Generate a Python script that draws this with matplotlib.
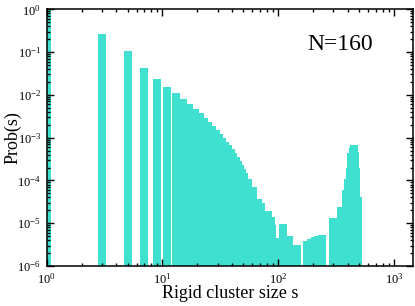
import numpy as np
import matplotlib
matplotlib.use("Agg")
import matplotlib.pyplot as plt
from matplotlib.ticker import LogLocator, NullFormatter

# ---------------------------------------------------------------------
# Datos (tamano de cluster rigido s, Prob(s))
# ---------------------------------------------------------------------
s_vals = [1, 3, 5, 7, 9, 11, 13, 15, 17, 19, 21, 23, 25, 27, 29, 31, 33,
          35, 37, 39, 41, 43, 45, 47, 49, 51, 55, 61, 67, 71, 81, 87, 89,
          95, 110, 124, 135, 147, 177, 194, 208, 222, 241, 301, 351, 387,
          404, 415, 427, 443, 451, 462, 474, 486, 493]
prob = [1.0, 0.265, 0.104, 0.0432, 0.024, 0.0156, 0.0109, 0.00802,
        0.00612, 0.00476, 0.00372, 0.00293, 0.00233, 0.00187, 0.00151,
        0.00120, 9.84e-4, 8.07e-4, 6.64e-4, 5.53e-4, 4.47e-4, 3.60e-4,
        2.90e-4, 2.34e-4, 1.89e-4, 1.52e-4, 1.07e-4, 6.93e-5, 3.63e-5,
        2.93e-5, 1.97e-5, 1.38e-5, 9.3e-6, 4.4e-6, 9.6e-6, 5.0e-6,
        3.06e-6, 3.06e-6, 3.92e-6, 4.23e-6, 4.71e-6, 5.05e-6, 5.42e-6,
        1.33e-5, 2.37e-5, 6.10e-5, 1.10e-4, 1.93e-4, 4.33e-4, 6.17e-4,
        6.64e-4, 4.71e-4, 1.93e-4, 4.18e-5, 1.0e-5]
label_text = "N=160"

# ---------------------------------------------------------------------
# Estilo
# ---------------------------------------------------------------------
plt.rcParams["font.family"] = ["Liberation Serif", "DejaVu Serif"]
plt.rcParams["mathtext.fontset"] = "custom"
plt.rcParams["mathtext.rm"] = "Liberation Serif"
plt.rcParams["mathtext.it"] = "Liberation Serif:italic"

fig = plt.figure(figsize=(4.15, 3.06), dpi=100)
ax = fig.add_axes([0.1125, 0.1307, 0.882, 0.8389])

# barras de ancho fijo en escala logaritmica
s = np.array(s_vals, dtype=float)
p = np.array(prob)
hw = 0.0346
left = s * 10 ** (-hw)
width = s * (10 ** hw - 10 ** (-hw))
bottom = 1e-7
ax.bar(left, p - bottom, width=width, bottom=bottom, align="edge",
       color="#40E0D0", edgecolor="none", linewidth=0)

ax.set_xscale("log")
ax.set_yscale("log")
ax.set_xlim(1, 1456)
ax.set_ylim(1e-6, 1)

ax.xaxis.set_major_locator(LogLocator(base=10, numticks=10))
ax.xaxis.set_minor_locator(LogLocator(base=10, subs=np.arange(2, 10), numticks=10))
ax.yaxis.set_major_locator(LogLocator(base=10, numticks=10))
ax.yaxis.set_minor_locator(LogLocator(base=10, subs=np.arange(2, 10), numticks=10))
ax.xaxis.set_minor_formatter(NullFormatter())
ax.yaxis.set_minor_formatter(NullFormatter())

ax.tick_params(which="both", direction="in", top=True, right=True,
               labelsize=9, width=1.0)
ax.tick_params(which="major", length=5, pad=4)
ax.tick_params(which="minor", length=2.5)
for sp in ax.spines.values():
    sp.set_linewidth(1.1)

ax.set_xlabel("Rigid cluster size s", fontsize=13, labelpad=-1)
ax.set_ylabel("Prob(s)", fontsize=13)
ax.yaxis.set_label_coords(-0.07, 0.5)
ax.text(0.801, 0.861, label_text, transform=ax.transAxes, fontsize=17,
        ha="center", va="center")

fig.savefig("out.png", dpi=100)
